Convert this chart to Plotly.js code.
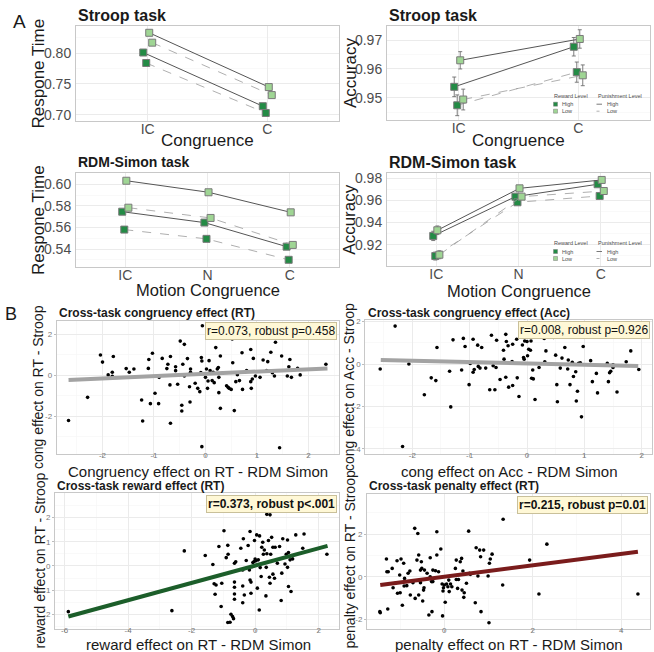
<!DOCTYPE html>
<html><head><meta charset="utf-8">
<script src="https://cdn.plot.ly/plotly-3.0.1.min.js"></script>
<style>html,body{margin:0;padding:0;background:#fff}#chart{width:654px;height:652px}</style>
</head><body><div id="chart"></div>
<script>
// ================= DATA =================
const stroopCats = ['IC', 'C'];
const simonCats = ['IC', 'N', 'C'];
// groups: reward level / punishment level
const groupReward = ['High', 'High', 'Low', 'Low'];
const groupPunish = ['High', 'Low', 'High', 'Low'];

// Panel A1: Stroop response time
const stroopRT_HH = [0.801, 0.714];
const stroopRT_HL = [0.784, 0.703];
const stroopRT_LH = [0.833, 0.745];
const stroopRT_LL = [0.817, 0.732];
// Panel A2: Stroop accuracy (+ SE)
const stroopAcc_HH = [0.9538, 0.9677];
const stroopAcc_HL = [0.9474, 0.9589];
const stroopAcc_LH = [0.9630, 0.9704];
const stroopAcc_LL = [0.9494, 0.9578];
const stroopAccSE_HH = [0.0034, 0.0032];
const stroopAccSE_HL = [0.0036, 0.0035];
const stroopAccSE_LH = [0.0030, 0.0032];
const stroopAccSE_LL = [0.0036, 0.0036];
// Panel A3: RDM-Simon response time
const simonRT_HH = [0.5746, 0.5645, 0.5422];
const simonRT_HL = [0.5580, 0.5494, 0.5300];
const simonRT_LH = [0.6033, 0.5926, 0.5740];
const simonRT_LL = [0.5783, 0.5688, 0.5438];
// Panel A4: RDM-Simon accuracy (+ SE)
const simonAcc_HH = [0.9279, 0.9634, 0.9746];
const simonAcc_HL = [0.9097, 0.9583, 0.9640];
const simonAcc_LH = [0.9330, 0.9709, 0.9785];
const simonAcc_LL = [0.9109, 0.9634, 0.9685];
const simonAccSE_HH = [0.0042, 0.0020, 0.0016];
const simonAccSE_HL = [0.0036, 0.0020, 0.0018];
const simonAccSE_LH = [0.0039, 0.0020, 0.0016];
const simonAccSE_LL = [0.0036, 0.0020, 0.0018];

// axis ticks
const stroopRTTicks = [0.70, 0.75, 0.80];
const stroopAccTicks = [0.95, 0.96, 0.97];
const simonRTTicks = [0.54, 0.56, 0.58, 0.60];
const simonAccTicks = [0.92, 0.94, 0.96, 0.98];

// Panel B1: cross-task congruency effect (RT)
const congRT_simon = [-2.66,-2.29,-2.04,-2.00,-1.89,-1.81,-1.79,-1.81,-1.54,-1.48,-1.39,-1.24,-1.22,-1.11,-1.10,-1.07,-1.03,-0.98,-0.91,-0.90,-0.84,-0.75,-0.73,-0.69,-0.68,-0.68,-0.58,-0.58,-0.54,-0.49,-0.46,-0.46,-0.44,-0.41,-0.41,-0.35,-0.31,-0.30,-0.29,-0.29,-0.20,-0.15,-0.11,-0.09,-0.08,-0.07,-0.07,-0.06,0.00,0.02,0.04,0.05,0.07,0.09,0.13,0.15,0.17,0.20,0.23,0.25,0.25,0.26,0.26,0.29,0.29,0.33,0.41,0.44,0.46,0.50,0.52,0.53,0.56,0.59,0.62,0.66,0.71,0.72,0.80,0.88,0.88,0.89,0.91,0.93,0.97,1.06,1.12,1.19,1.21,1.27,1.30,1.34,1.36,1.44,1.48,1.59,1.62,1.64,1.67,1.79,1.84,2.34];
const congRT_stroop = [-2.22,-1.08,1.00,0.65,0.02,0.15,0.92,-0.05,0.33,0.15,0.31,-1.21,-2.24,0.34,0.78,-1.39,1.08,-0.88,-1.39,-0.10,0.83,0.33,0.54,-0.47,-2.35,0.92,0.42,0.23,-0.44,1.68,-1.47,-1.75,0.54,-0.03,1.52,0.82,-0.56,-1.31,0.31,0.15,-0.39,-0.64,-0.80,0.13,0.87,0.70,-3.50,2.43,-0.10,0.31,-0.64,-0.28,0.72,0.23,-0.26,0.15,-0.36,1.36,0.31,1.94,0.38,-0.10,-0.85,0.95,-1.62,0.10,-0.51,-0.59,-0.64,-0.69,1.78,0.62,-1.73,-0.31,0.03,-0.26,1.11,-0.69,0.23,1.27,-0.31,-0.64,-0.18,0.83,-0.03,-0.10,0.75,0.23,0.67,1.13,0.13,-0.03,1.62,-3.55,0.95,-0.03,0.42,0.78,-0.10,0.34,0.02,0.54];
const congRT_fitX = [-2.66, 2.37];
const congRT_fitY = [-0.23, 0.34];
const congRT_label = 'r=0.073, robust p=0.458';

// Panel B2: cross-task congruency effect (Acc)
const congAcc_simon = [-2.56,-2.30,-2.06,-1.79,-1.67,-1.59,-1.57,-1.35,-1.33,-1.29,-1.14,-1.11,-1.08,-1.01,-0.99,-0.94,-0.94,-0.92,-0.86,-0.85,-0.79,-0.82,-0.72,-0.65,-0.62,-0.59,-0.56,-0.54,-0.53,-0.47,-0.41,-0.40,-0.37,-0.36,-0.33,-0.32,-0.26,-0.25,-0.25,-0.18,-0.17,-0.14,-0.08,-0.06,-0.05,-0.04,0.00,0.01,0.03,0.06,0.07,0.08,0.10,0.11,0.14,0.21,0.30,0.31,0.33,0.46,0.49,0.50,0.52,0.53,0.58,0.61,0.66,0.71,0.72,0.75,0.79,0.81,0.85,0.86,0.88,0.90,0.93,0.95,0.98,1.13,1.11,1.14,1.21,1.23,1.40,1.42,1.44,1.46,1.50,1.50,1.57,1.73,1.81,1.95,1.29,-2.17,-0.37];
const congAcc_stroop = [-0.23,1.79,0.00,-1.45,-0.65,-0.78,0.78,-0.34,-2.02,1.14,-0.28,1.21,0.83,-0.97,0.03,1.17,-0.39,-0.26,0.89,-0.11,0.78,-0.19,-0.19,-1.21,1.36,-0.08,-1.21,-0.16,1.12,-0.73,0.65,0.23,-0.62,1.06,0.86,-1.09,0.12,0.93,-1.01,1.17,-0.65,-1.53,0.90,0.31,0.23,1.09,1.06,0.39,0.70,0.65,1.09,-0.67,-0.28,-0.70,-1.67,-0.16,1.21,0.11,0.62,1.25,1.29,0.42,-0.97,-1.78,-0.19,0.28,0.78,-0.23,0.19,-0.97,0.08,-0.59,-0.36,-1.74,-1.28,0.03,0.06,-2.49,0.83,1.32,0.16,-0.83,-0.44,-1.36,0.03,-0.83,-0.41,-0.34,-0.16,-0.03,-1.32,0.11,0.62,-0.26,1.37,-3.89,1.40];
const congAcc_fitX = [-2.55, 1.94];
const congAcc_fitY = [0.19, -0.09];
const congAcc_label = 'r=0.008, robust p=0.926';

// Panel B3: cross-task reward effect (RT)
const rewRT_simon = [-5.88,-2.62,-2.23,-1.57,-1.33,-1.29,-1.23,-1.26,-1.14,-1.07,-1.05,-0.98,-0.91,-0.86,-0.85,-0.76,-0.71,-0.68,-0.86,-0.79,-0.65,-0.65,-0.65,-0.65,-0.65,-0.61,-0.45,-0.39,-0.39,-0.39,-0.37,-0.34,-0.28,-0.22,-0.18,-0.16,-0.16,-0.13,-0.13,-0.10,-0.07,-0.03,-0.02,0.00,0.03,0.05,0.07,0.10,0.13,0.14,0.16,0.19,0.21,0.24,0.26,0.29,0.34,0.35,0.37,0.37,0.42,0.45,0.47,0.47,0.49,0.52,0.56,0.56,0.61,0.63,0.68,0.70,0.77,0.82,0.84,0.87,0.94,0.98,1.02,1.02,1.05,1.05,1.10,1.13,1.18,1.28,1.54,1.50,2.26];
const rewRT_stroop = [-1.89,-1.85,0.62,0.43,0.06,-0.74,-0.79,-1.17,0.80,-1.68,-0.72,1.45,0.34,0.85,0.48,-2.00,-2.09,-2.18,-2.34,-2.33,-0.67,-0.88,-1.16,-1.38,0.11,0.17,0.73,-0.17,-0.83,-1.52,1.12,-1.20,0.22,0.84,-0.17,1.42,-0.58,-0.67,-1.13,-0.03,0.14,0.18,1.05,0.28,0.21,1.28,-0.92,0.25,-1.82,1.24,-0.07,-0.44,0.77,0.98,0.48,0.66,-1.24,-0.06,0.50,2.13,1.05,-0.47,2.11,-0.72,0.48,1.18,-0.34,0.77,-0.51,0.77,0.25,0.11,0.80,-1.43,-0.30,1.12,0.08,0.48,1.07,-0.06,0.55,-0.85,0.25,-1.06,0.29,1.28,1.32,0.73,0.48];
const rewRT_fitX = [-5.88, 2.28];
const rewRT_fitY = [-2.09, 0.83];
const rewRT_label = 'r=0.373, robust p<.001';

// Panel B4: cross-task penalty effect (RT)
const penRT_simon = [-1.46,-1.45,-1.31,-1.30,-1.28,-1.27,-1.18,-1.16,-1.11,-1.07,-1.06,-1.01,-1.00,-0.98,-0.95,-0.92,-0.91,-0.90,-0.85,-0.82,-0.77,-0.71,-0.67,-0.66,-0.62,-0.60,-0.58,-0.58,-0.54,-0.54,-0.52,-0.51,-0.49,-0.47,-0.46,-0.45,-0.39,-0.35,-0.32,-0.32,-0.29,-0.28,-0.26,-0.26,-0.20,-0.17,-0.13,-0.08,-0.05,-0.04,-0.03,-0.02,0.00,0.02,0.05,0.08,0.10,0.11,0.14,0.17,0.25,0.27,0.27,0.30,0.32,0.36,0.39,0.40,0.42,0.44,0.45,0.50,0.55,0.57,0.59,0.70,0.72,0.76,0.80,0.82,0.83,0.89,0.99,1.01,1.02,1.04,1.08,1.32,1.33,1.93,2.14,2.32,4.38,-0.17,-0.78];
const penRT_stroop = [-1.64,-1.69,0.83,0.23,-1.52,0.23,0.39,-0.52,-0.31,0.75,-0.78,0.08,-0.75,0.83,-1.34,0.63,-0.44,-0.08,-0.42,0.16,-0.86,-0.28,2.27,-1.02,0.78,2.03,1.02,-0.86,0.31,-0.28,0.70,0.39,-1.14,-0.63,-0.52,0.31,0.16,-1.80,0.00,0.89,-0.23,-1.64,0.31,-0.23,0.28,2.11,0.23,1.30,-0.34,-1.84,-0.67,-0.52,-0.39,-1.20,-0.34,-0.47,-0.16,-0.70,-0.34,-0.47,0.39,-0.13,0.78,-0.55,-0.13,0.70,0.86,-0.63,0.27,-0.97,-0.75,-0.31,2.14,0.16,0.11,-1.22,1.36,0.03,1.25,0.94,-1.64,1.25,0.03,-2.16,0.63,0.83,1.06,-0.39,2.70,0.78,-0.81,1.53,-0.81,1.02,0.27];
const penRT_fitX = [-1.45, 4.38];
const penRT_fitY = [-0.39, 1.17];
const penRT_label = 'r=0.215, robust p=0.01';

// B tick values / labels
const b1XTicks = [-2,-1,0,1,2], b1YTicks = [-2,0,2];
const b2XTicks = [-2,-1,0,1,2], b2YTicks = [-4,-2,0,2];
const b3XTicks = [-6,-4,-2,0,2], b3YTicks = [-2,-1,0,1,2];
const b4XTicks = [0,2,4], b4YTicks = [-2,0,2];

// ================= STYLE / LAYOUT =================
const W = 654, H = 652;
const FONT = 'Liberation Sans, Arial, Helvetica, sans-serif';
const DARK = '#238b45', LIGHT = '#9fd594';
const fx = v => v / W, fy = v => 1 - v / H;
// plot boxes in pixels [left,right,top,bottom]
const boxes = {
  a1: [76, 339, 26, 121], a2: [387, 650, 26, 120],
  a3: [76, 339, 173.3, 266.7], a4: [387, 650, 173.3, 266],
  b1: [56.7, 339.3, 320.7, 454], b2: [365.3, 652, 319.5, 454],
  b3: [55, 339.3, 493.3, 629.3], b4: [367, 650.3, 494.3, 629.3]
};
const dodge = [-0.0375, -0.0125, 0.0125, 0.0375];

const layout = {
  width: W, height: H, margin: {l: 0, r: 0, t: 0, b: 0},
  paper_bgcolor: '#fff', plot_bgcolor: '#fff', showlegend: false,
  font: {family: FONT, color: '#1a1a1a'},
  annotations: [], shapes: []
};
const traces = [];

function mids(t) {
  const s = t[1] - t[0]; const out = [t[0] - s / 2];
  t.forEach(v => out.push(v + s / 2)); return out;
}
const fmtMinus = v => String(v).replace('\u2212', '-');

function setAxes(idx, box, xo, yo) {
  const s = idx === 1 ? '' : String(idx);
  const base = {showline: true, mirror: true, linecolor: '#c8c8c8', linewidth: 1,
    gridcolor: '#ebebeb', gridwidth: 1, zeroline: false, fixedrange: true};
  layout['xaxis' + s] = Object.assign({}, base, {domain: [fx(box[0]), fx(box[1])], anchor: 'y' + s}, xo);
  layout['yaxis' + s] = Object.assign({}, base, {domain: [fy(box[3]), fy(box[2])], anchor: 'x' + s}, yo);
}

// ---------- Panel A ----------
const aTick = {size: 14, color: '#4d4d4d'};
function panelA(idx, box, cats, series, ses, yticks, yrange) {
  const s = idx === 1 ? '' : String(idx);
  setAxes(idx, box,
    {range: [0.4, cats.length + 0.6], tickmode: 'array', tickvals: cats.map((c, i) => i + 1), ticktext: cats,
     tickfont: aTick, ticks: '', ticklabelstandoff: -5},
    {range: yrange, tickmode: 'array', tickvals: yticks, ticktext: yticks.map(v => v.toFixed(2)),
     tickfont: aTick, ticks: '', ticklabelstandoff: 1,
     minor: {tickmode: 'array', tickvals: mids(yticks), showgrid: true, gridcolor: '#f5f5f5', gridwidth: 0.6}});
  series.forEach((ys, g) => {
    const low = groupPunish[g] === 'Low';
    const tr = {
      type: 'scatter', mode: 'lines+markers', xaxis: 'x' + s, yaxis: 'y' + s,
      x: cats.map((c, i) => i + 1 + dodge[g]), y: ys,
      line: {color: low ? '#9a9a9a' : '#555555', width: low ? 0.8 : 1, dash: low ? 'dash' : 'solid'},
      marker: {symbol: 'square', size: 7, color: groupReward[g] === 'High' ? DARK : LIGHT,
               line: {color: '#7a7a7a', width: 1}},
      hoverinfo: 'skip'
    };
    if (ses) tr.error_y = {type: 'data', array: ses[g], color: '#6e6e6e', thickness: 0.9, width: 2};
    traces.push(tr);
  });
}
panelA(1, boxes.a1, stroopCats, [stroopRT_HH, stroopRT_HL, stroopRT_LH, stroopRT_LL], null, stroopRTTicks, [0.690, 0.844]);
panelA(2, boxes.a2, stroopCats, [stroopAcc_HH, stroopAcc_HL, stroopAcc_LH, stroopAcc_LL],
  [stroopAccSE_HH, stroopAccSE_HL, stroopAccSE_LH, stroopAccSE_LL], stroopAccTicks, [0.9423, 0.9749]);
panelA(3, boxes.a3, simonCats, [simonRT_HH, simonRT_HL, simonRT_LH, simonRT_LL], null, simonRTTicks, [0.5236, 0.6102]);
panelA(4, boxes.a4, simonCats, [simonAcc_HH, simonAcc_HL, simonAcc_LH, simonAcc_LL],
  [simonAccSE_HH, simonAccSE_HL, simonAccSE_LH, simonAccSE_LL], simonAccTicks, [0.9007, 0.9845]);

// ---------- Panel B ----------
const bTick = {size: 8, color: '#7a7a7a'};
function panelB(idx, box, xs, ys, fitX, fitY, fitColor, xt, yt, xr, yr, label, bold) {
  const s = String(idx);
  setAxes(idx, box,
    {range: xr, tickmode: 'array', tickvals: xt, ticktext: xt.map(fmtMinus), tickfont: bTick,
     ticks: 'outside', ticklen: 2, tickcolor: '#bdbdbd', ticklabelstandoff: -9,
     minor: {tickmode: 'array', tickvals: mids(xt), showgrid: true, gridcolor: '#f5f5f5', gridwidth: 0.6}},
    {range: yr, tickmode: 'array', tickvals: yt, ticktext: yt.map(fmtMinus), tickfont: bTick,
     ticks: 'outside', ticklen: 2, tickcolor: '#bdbdbd', ticklabelstandoff: 0,
     minor: {tickmode: 'array', tickvals: mids(yt), showgrid: true, gridcolor: '#f5f5f5', gridwidth: 0.6}});
  traces.push({type: 'scatter', mode: 'markers', xaxis: 'x' + s, yaxis: 'y' + s, x: xs, y: ys,
    marker: {color: '#000', size: 3.6}, hoverinfo: 'skip'});
  traces.push({type: 'scatter', mode: 'lines', xaxis: 'x' + s, yaxis: 'y' + s, x: fitX, y: fitY,
    line: {color: fitColor, width: 4}, hoverinfo: 'skip'});
  layout.annotations.push({xref: 'paper', yref: 'paper', x: fx(box[1] - 2), y: fy(box[2] + 1.2),
    xanchor: 'right', yanchor: 'top', text: bold ? '<b>' + label + '</b>' : label, showarrow: false,
    font: {size: 12, color: '#111', family: FONT}, bgcolor: '#fff8d6', bordercolor: '#c9c09a',
    borderwidth: 1, borderpad: 1});
}
panelB(5, boxes.b1, congRT_simon, congRT_stroop, congRT_fitX, congRT_fitY, '#a3a3a3', b1XTicks, b1YTicks, [-2.89, 2.60], [-3.86, 2.68], congRT_label, false);
panelB(6, boxes.b2, congAcc_simon, congAcc_stroop, congAcc_fitX, congAcc_fitY, '#a3a3a3', b2XTicks, b2YTicks, [-2.82, 2.18], [-4.24, 2.10], congAcc_label, false);
panelB(7, boxes.b3, rewRT_simon, rewRT_stroop, rewRT_fitX, rewRT_fitY, '#1c5e2a', b3XTicks, b3YTicks, [-6.30, 2.65], [-2.62, 3.0], rewRT_label, true);
panelB(8, boxes.b4, penRT_simon, penRT_stroop, penRT_fitX, penRT_fitY, '#7a1c1c', b4XTicks, b4YTicks, [-1.75, 4.66], [-2.47, 3.87], penRT_label, true);

// ---------- text annotations ----------
function txt(text, x, y, size, opts) {
  layout.annotations.push(Object.assign({xref: 'paper', yref: 'paper', x: fx(x), y: fy(y), text: text,
    showarrow: false, xanchor: 'center', yanchor: 'middle', font: {size: size, family: FONT, color: '#1a1a1a'}}, opts || {}));
}
txt('A', 19, 21, 19, {});
txt('B', 11, 314, 18, {});
txt('<b>Stroop task</b>', 76, 16, 16, {xanchor: 'left'});
txt('<b>Stroop task</b>', 387, 16, 16, {xanchor: 'left'});
txt('<b>RDM-Simon task</b>', 76, 162, 14, {xanchor: 'left'});
txt('<b>RDM-Simon task</b>', 387, 162.5, 16, {xanchor: 'left'});
txt('<b>Cross-task congruency effect (RT)</b>', 56.7, 312.5, 12, {xanchor: 'left'});
txt('<b>Cross-task congruency effect (Acc)</b>', 366, 312.5, 12, {xanchor: 'left'});
txt('<b>Cross-task reward effect (RT)</b>', 55, 486, 12, {xanchor: 'left'});
txt('<b>Cross-task penalty effect (RT)</b>', 367, 485.5, 12, {xanchor: 'left'});
// axis titles A
txt('Respone Time', 38, 73.5, 17, {textangle: -90});
txt('Accuracy', 350, 73, 17, {textangle: -90});
txt('Respone Time', 38, 220, 17, {textangle: -90});
txt('Accuracy', 350, 219.7, 17, {textangle: -90});
txt('Congruence', 207.5, 141, 17, {});
txt('Congruence', 518.5, 141, 17, {});
txt('Motion Congruence', 207.5, 290, 16.5, {});
txt('Motion Congruence', 518.5, 290.5, 16.5, {});
// axis titles B
txt('cong effect on RT - Stroop', 38, 387, 14, {textangle: -90});
txt('cong effect on Acc - Stroop', 349, 387, 14, {textangle: -90});
txt('reward effect on RT - Stroop', 39.5, 561, 14, {textangle: -90});
txt('penalty effect on RT - Stroop', 349.5, 560, 14, {textangle: -90});
txt('Congruency effect on RT - RDM Simon', 198, 471, 15, {});
txt('cong effect on Acc - RDM Simon', 508.7, 471, 15, {});
txt('reward effect on RT - RDM Simon', 198, 644, 15, {});
txt('penalty effect on RT - RDM Simon', 508.7, 644, 15, {});

// ---------- legends (A2, A4) ----------
function legendAt(x0, y0) {
  const f = 5.5, c = '#4d4d4d';
  txt('Reward Level', x0, y0, f, {xanchor: 'left', font: {size: f, color: c, family: FONT}});
  txt('Punishment Level', x0 + 44.5, y0, f, {xanchor: 'left', font: {size: f, color: c, family: FONT}});
  [['High', DARK, 'solid', '#555555'], ['Low', LIGHT, 'dot', '#9a9a9a']].forEach((it, i) => {
    const yy = y0 + 8.5 + i * 7;
    layout.shapes.push({type: 'rect', xref: 'paper', yref: 'paper', x0: fx(x0 + 2), x1: fx(x0 + 6),
      y0: fy(yy + 2), y1: fy(yy - 2), fillcolor: it[1], line: {color: '#7a7a7a', width: 0.5}});
    txt(it[0], x0 + 8.5, yy, f, {xanchor: 'left', font: {size: f, color: c, family: FONT}});
    layout.shapes.push({type: 'line', xref: 'paper', yref: 'paper', x0: fx(x0 + 45), x1: fx(x0 + 50.5),
      y0: fy(yy), y1: fy(yy), line: {color: it[3], width: 0.8, dash: it[2]}});
    txt(it[0], x0 + 53.5, yy, f, {xanchor: 'left', font: {size: f, color: c, family: FONT}});
  });
}
legendAt(551.5, 95.7);
legendAt(551.5, 243);

Plotly.newPlot('chart', traces, layout, {staticPlot: true, displayModeBar: false});
</script>
</body></html>
